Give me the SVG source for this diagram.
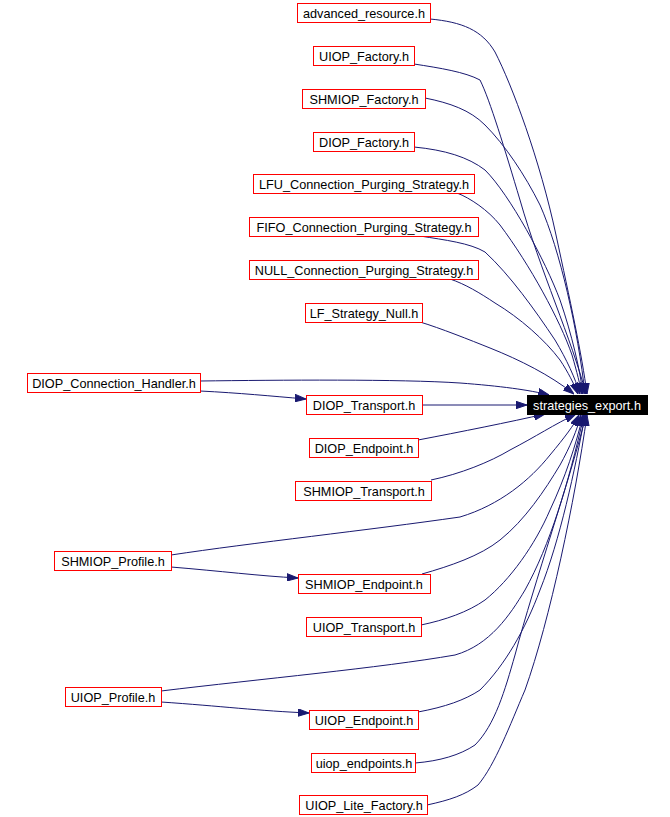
<svg xmlns="http://www.w3.org/2000/svg" width="670" height="817" viewBox="0 0 670 817">
<style>
.n rect{fill:#fff;stroke:#ff0000;stroke-width:1}
.n text{font-family:"Liberation Sans",Arial,sans-serif;font-size:12.7px;fill:#000;text-anchor:middle}
#n11 rect{fill:#000;stroke:#000}
#n11 text{fill:#fff}
.e path{fill:none;stroke:#191970;stroke-width:1;marker-end:url(#ah)}
</style>
<defs>
<marker id="ah" markerUnits="userSpaceOnUse" markerWidth="11" markerHeight="8" refX="11" refY="4" orient="auto">
<path d="M0,0.3 L11,4 L0,7.7 z" fill="#191970" stroke="#191970"/>
</marker>
</defs>
<rect width="670" height="817" fill="#fff"/>
<g id="edges" class="e">
<path d="M430,19 C462,22 482,30 495,52 C512,85 540,160 556,235 C570,300 582,355 587,394"/>
<path d="M414,64 C440,68 465,72 480,80 C490,100 505,150 520,200 C540,270 572,340 586,394"/>
<path d="M425,98 C450,103 470,110 485,125 C505,145 525,175 540,205 C560,250 578,330 585,394"/>
<path d="M414,147 C445,150 468,157 485,170 C510,195 545,260 560,300 C572,335 580,370 583,394"/>
<path d="M457,193 C470,198 488,210 500,225 C530,265 560,320 572,355 C577,372 580,385 582,394"/>
<path d="M420,236 C445,240 470,243 485,252 C510,275 535,310 555,340 C567,360 575,378 580,394"/>
<path d="M450,279 C465,284 480,293 495,303 C520,318 545,340 560,360 C568,372 574,384 578,394"/>
<path d="M420,322 C440,328 470,340 490,348 C520,360 550,375 574,394"/>
<path d="M200,381 C280,380 400,379 460,383 C500,386 530,390 549,395"/>
<path d="M200,391 C240,393 270,396 306,399"/>
<path d="M422,405 L527,405"/>
<path d="M418,440 C460,432 510,422 545,414"/>
<path d="M431,480 C460,474 490,462 510,450 C535,437 555,424 576,414"/>
<path d="M171,555 C250,543 370,530 460,517 C500,505 530,480 550,455 C565,437 574,425 579,415"/>
<path d="M422,574 C450,566 480,556 500,540 C525,520 545,490 560,465 C570,447 577,430 581,415"/>
<path d="M421,625 C445,620 468,612 485,600 C510,580 535,545 550,510 C565,478 576,445 583,415"/>
<path d="M161,691 C260,679 380,668 455,655 C490,645 510,615 525,590 C550,545 568,485 584,415"/>
<path d="M418,712 C445,707 465,700 480,690 C505,665 525,630 540,590 C560,540 575,470 585,415"/>
<path d="M415,763 C440,761 460,755 475,745 C495,725 505,690 515,655 C535,580 570,480 586,415"/>
<path d="M427,805 C450,800 465,795 478,785 C495,765 510,725 525,690 C550,620 575,500 587,415"/>
<path d="M171,567 C220,571 260,576 298,578"/>
<path d="M161,702 C220,706 260,711 309,713"/>
</g>
<g id="n1" class="n"><rect x="297.5" y="3.5" width="133" height="19"/><text x="364" y="18">advanced_resource.h</text></g>
<g id="n2" class="n"><rect x="313.5" y="46.5" width="101" height="19"/><text x="364" y="61">UIOP_Factory.h</text></g>
<g id="n3" class="n"><rect x="302.5" y="89.5" width="123" height="19"/><text x="364" y="104">SHMIOP_Factory.h</text></g>
<g id="n4" class="n"><rect x="313.5" y="132.5" width="101" height="19"/><text x="364" y="147">DIOP_Factory.h</text></g>
<g id="n5" class="n"><rect x="253.5" y="174.5" width="221" height="19"/><text x="364" y="189">LFU_Connection_Purging_Strategy.h</text></g>
<g id="n6" class="n"><rect x="249.5" y="217.5" width="229" height="19"/><text x="364" y="232">FIFO_Connection_Purging_Strategy.h</text></g>
<g id="n7" class="n"><rect x="249.5" y="260.5" width="229" height="19"/><text x="364" y="275">NULL_Connection_Purging_Strategy.h</text></g>
<g id="n8" class="n"><rect x="305.5" y="303.5" width="117" height="19"/><text x="364" y="318">LF_Strategy_Null.h</text></g>
<g id="n9" class="n"><rect x="27.5" y="373.5" width="173" height="19"/><text x="114" y="388">DIOP_Connection_Handler.h</text></g>
<g id="n10" class="n"><rect x="306.5" y="395.5" width="116" height="19"/><text x="364" y="410">DIOP_Transport.h</text></g>
<g id="n11" class="n"><rect x="527.5" y="395.5" width="120" height="19"/><text x="587" y="410">strategies_export.h</text></g>
<g id="n12" class="n"><rect x="309.5" y="438.5" width="109" height="19"/><text x="364" y="453">DIOP_Endpoint.h</text></g>
<g id="n13" class="n"><rect x="295.5" y="481.5" width="136" height="19"/><text x="364" y="496">SHMIOP_Transport.h</text></g>
<g id="n14" class="n"><rect x="54.5" y="551.5" width="117" height="19"/><text x="113" y="566">SHMIOP_Profile.h</text></g>
<g id="n15" class="n"><rect x="298.5" y="574.5" width="132" height="19"/><text x="364" y="589">SHMIOP_Endpoint.h</text></g>
<g id="n16" class="n"><rect x="306.5" y="617.5" width="115" height="19"/><text x="364" y="632">UIOP_Transport.h</text></g>
<g id="n17" class="n"><rect x="65.5" y="687.5" width="96" height="19"/><text x="113" y="702">UIOP_Profile.h</text></g>
<g id="n18" class="n"><rect x="309.5" y="710.5" width="109" height="19"/><text x="364" y="725">UIOP_Endpoint.h</text></g>
<g id="n19" class="n"><rect x="311.5" y="753.5" width="104" height="19"/><text x="364" y="768">uiop_endpoints.h</text></g>
<g id="n20" class="n"><rect x="299.5" y="795.5" width="128" height="19"/><text x="364" y="810">UIOP_Lite_Factory.h</text></g>
</svg>
